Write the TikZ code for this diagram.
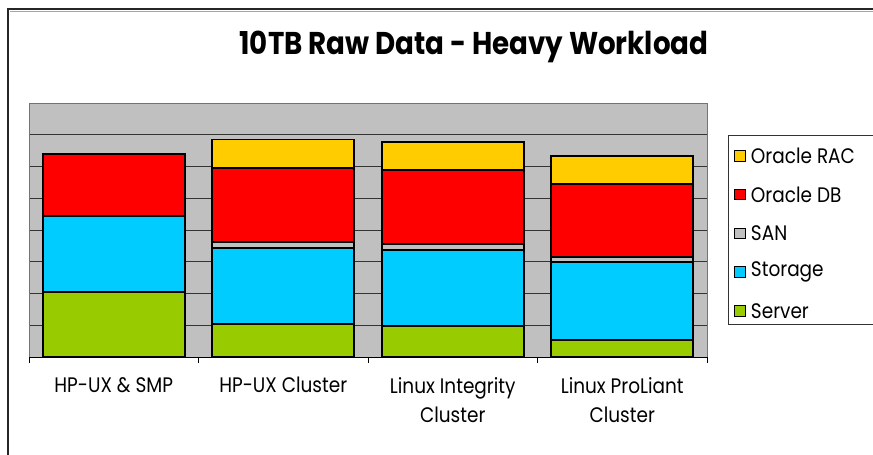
\documentclass[tikz,border=0pt]{standalone}
\usepackage{fontspec}
\setmainfont{Poppins}
\newfontfamily\chartfont[FakeStretch=0.88]{Poppins}
\usetikzlibrary{positioning}
\usepackage{xcolor}

\definecolor{racyellow}{HTML}{FFCC00}
\definecolor{dbred}{HTML}{FF0000}
\definecolor{sangray}{HTML}{C0C0C0}
\definecolor{storeblue}{HTML}{00CCFF}
\definecolor{servgreen}{HTML}{99CC00}

\tikzset{
  seg/.style={draw=black, line width=1.6pt},
  keybox/.style={draw=black, line width=1pt, minimum size=10.5pt, inner sep=0pt},
  catlabel/.style={font=\chartfont\fontsize{21}{29.5}\selectfont, align=center, anchor=north, inner sep=0pt}
}

\begin{document}
\begin{tikzpicture}[x=1pt,y=-1pt]
    \useasboundingbox (0,0) rectangle (873,455);

    % Outer frame
    \draw[gray!70, line width=1pt] (10,11.5) -- (880,11.5);
    \draw[black!85, line width=2pt] (8,460) |- (880,9);

    % Title
    \node[font=\chartfont\bfseries\fontsize{31.5}{34}\selectfont] (title) at (474,47) {10TB Raw Data - Heavy Workload};

    % Plot area and grid
    \fill[sangray] (29,103) rectangle (707,357);
    \foreach \y in {134.75,166.5,198.25,230,261.75,293.5,325.25}
        \draw[black!80, line width=0.8pt] (29,\y) -- (707,\y);
    \draw[gray!90!black, line width=1pt] (29,103) rectangle (707,357);

    % Category axis
    \draw[black, line width=1pt] (29,357) -- (707,357);
    \foreach \x in {29,198.5,368,537.5,707}
        \draw[black, line width=1pt] (\x,357) -- (\x,363);

    % Stacked bars: centre / server / storage / SAN / Oracle DB / Oracle RAC tops
    \foreach \c/\g/\b/\s/\r/\o in {113.75/291.7/215.7/215.7/153.7/153.7,
                                   283.25/323.7/247.7/241.7/167.7/139.3,
                                   452.75/325.7/250/244/169.7/141.7,
                                   622.25/340/261.7/256.7/184/155.7}
    {
        \draw[seg, fill=servgreen] (\c-71,357) rectangle (\c+71,\g);
        \draw[seg, fill=storeblue] (\c-71,\g) rectangle (\c+71,\b);
        \draw[seg, fill=sangray] (\c-71,\b) rectangle (\c+71,\s);
        \draw[seg, fill=dbred] (\c-71,\s) rectangle (\c+71,\r);
        \draw[seg, fill=racyellow] (\c-71,\r) rectangle (\c+71,\o);
    }

    % Category labels
    \node[catlabel] (hpsmp) at (113.75,377) {HP-UX \& SMP};
    \node[catlabel] (hpclus) at (283.25,377) {HP-UX Cluster};
    \node[catlabel] (linint) at (452.75,377) {Linux Integrity\\Cluster};
    \node[catlabel] (linpro) at (622.25,377) {Linux ProLiant\\Cluster};

    % Legend
    \draw[black!80, line width=1pt] (728,135) rectangle (880,324);
    \foreach \i/\col/\txt in {0/racyellow/Oracle RAC, 1/dbred/Oracle DB, 2/sangray/SAN,
                              3/storeblue/Storage, 4/servgreen/Server}
    {
        \node[keybox, fill=\col] (key\i) at (740,156+38.7*\i) {};
        \node[right=5pt of key\i, inner sep=0pt, font=\chartfont\fontsize{21}{24}\selectfont] (keytxt\i) {\txt};
    }
\end{tikzpicture}
\end{document}
